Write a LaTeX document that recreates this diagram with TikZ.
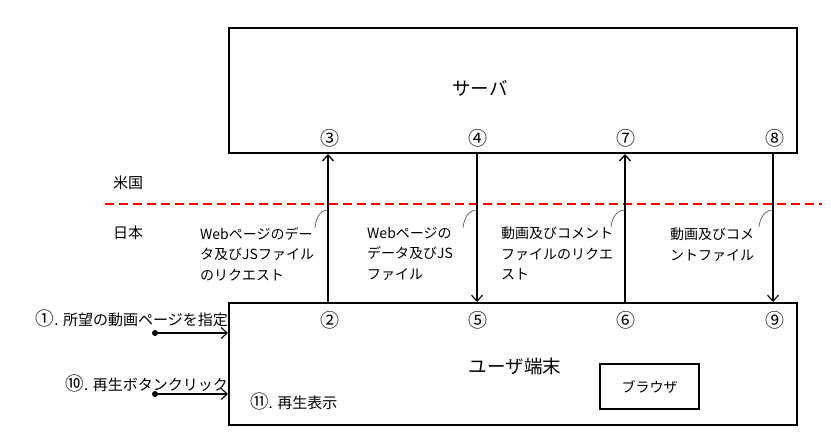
\documentclass[tikz,border=0pt]{standalone}
\usepackage{fontspec}
\setmainfont{Noto Sans CJK JP}
\usetikzlibrary{arrows.meta}
\newcommand{\cn}[1]{{\fontsize{18.5}{15}\selectfont #1}}
\begin{document}
\begin{tikzpicture}[x=1pt,y=-1pt,
  box/.style={draw, line width=2pt, inner sep=0pt},
  num/.style={font=\fontsize{19}{19}\selectfont, inner sep=0pt},
  big/.style={font=\fontsize{18.5}{18.5}\selectfont, inner sep=0pt},
  txt/.style={font=\fontsize{15}{15}\selectfont, inner sep=0pt},
  lab/.style={font=\fontsize{14}{20.5}\selectfont, align=left, anchor=north west, inner sep=0pt},
  arr/.style={-{Straight Barb[length=6pt,width=11pt,line width=1.3pt]}, line width=1.5pt},
  arrthin/.style={-{Straight Barb[length=6pt,width=11pt,line width=1.1pt]}, line width=1.1pt},
  callout/.style={draw=black!65, line width=0.7pt},
  border/.style={draw=red, line width=1.8pt, dash pattern=on 9pt off 5pt},
  dot/.style={circle, fill=black, inner sep=0pt, minimum size=6pt}]
\useasboundingbox (0,0) rectangle (831,442);

% boxes
\node[box, minimum width=568pt, minimum height=125pt] (server) at (513,90.5) {};
\node[big] (srvlabel) at (480,88) {サーバ};
\node[box, minimum width=568pt, minimum height=122pt] (user) at (513,364) {};
\node[big] (userlabel) at (515,366) {ユーザ端末};
\node[box, line width=1.6pt, minimum width=99pt, minimum height=45pt, font=\fontsize{14}{14}\selectfont] (browser) at (649.5,386.5) {ブラウザ};

% numbers
\node[num] (n3) at (330,138) {③};
\node[num] (n4) at (478,138) {④};
\node[num] (n7) at (626,138) {⑦};
\node[num] (n8) at (775,138) {⑧};
\node[num] (n2) at (330,320) {②};
\node[num] (n5) at (478,320) {⑤};
\node[num] (n6) at (626,320) {⑥};
\node[num] (n9) at (775,320) {⑨};

% border line
\coordinate (dl) at (105,204);
\coordinate (dr) at (822,204);
\draw[border] (dl) -- (dr);
\node[txt] (us) at (128,183) {米国};
\node[txt] (jp) at (128,233) {日本};

% vertical arrows
\coordinate (a1) at (328,0);
\coordinate (a2) at (477,0);
\coordinate (a3) at (625,0);
\coordinate (a4) at (773,0);
\draw[arr] (a1 |- user.north) -- (a1 |- server.south);
\draw[arrthin] (a2 |- server.south) -- (a2 |- user.north);
\draw[arr] (a3 |- user.north) -- (a3 |- server.south);
\draw[arrthin] (a4 |- server.south) -- (a4 |- user.north);

% labels
\node[lab] (l1) at (200,227) {Webページのデー\\タ及びJSファイル\\のリクエスト};
\node[lab] (l2) at (367,227) {Webページの\\データ及びJS\\ファイル};
\node[lab] (l3) at (501,227) {動画及びコメント\\ファイルのリクエ\\スト};
\node[lab] (l4) at (670,228) {動画及びコメ\\ントファイル};

% callouts
\coordinate (k1) at (328,210); \coordinate (e1) at (315,228);
\coordinate (k2) at (477,210); \coordinate (e2) at (463,228);
\coordinate (k3) at (625,210); \coordinate (e3) at (611,227);
\coordinate (k4) at (773,210); \coordinate (e4) at (759,227);
\draw[callout] (k1) to[out=180,in=85] (e1);
\draw[callout] (k2) to[out=180,in=85] (e2);
\draw[callout] (k3) to[out=180,in=85] (e3);
\draw[callout] (k4) to[out=180,in=85] (e4);

% left inputs
\node[txt, anchor=east] (s1) at (228,318) {\cn{①}. 所望の動画ページを指定};
\node[txt, anchor=east] (s10) at (228,383) {\cn{⑩}. 再生ボタンクリック};
\node[dot] (d1) at (155,333) {};
\node[dot] (d2) at (155,394) {};
\draw[arrthin] (d1) -- (d1 -| user.west);
\draw[arrthin] (d2) -- (d2 -| user.west);
\node[txt, anchor=west] (s11) at (250,401) {\cn{⑪}. 再生表示};
\end{tikzpicture}
\end{document}
